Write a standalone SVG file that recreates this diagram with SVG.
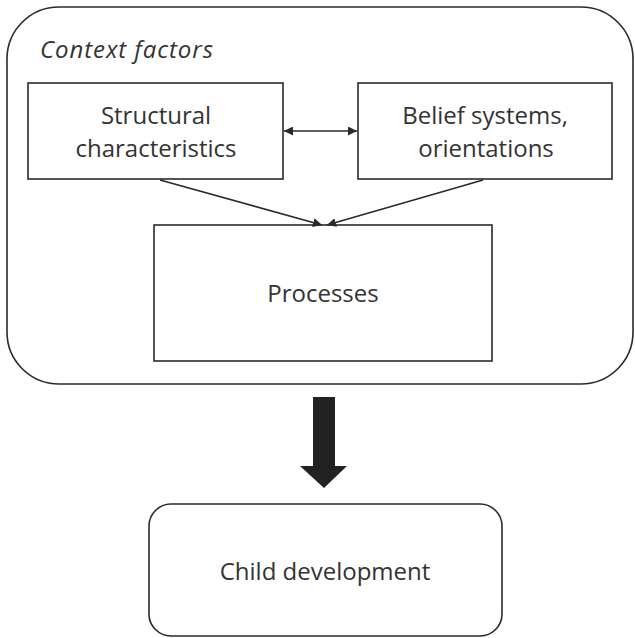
<svg xmlns="http://www.w3.org/2000/svg" width="635" height="638" viewBox="0 0 635 638">
<style>
  .box{fill:#fff;stroke:#2a2a2a;stroke-width:1.6}
  .t{font-family:"Open Sans","Noto Sans","Liberation Sans",sans-serif;font-size:24px;fill:#333;text-anchor:middle}
  .ln{stroke:#2a2a2a;stroke-width:1.6;fill:none}
</style>
<defs>
  <marker id="ah" viewBox="0 0 10 10" refX="10" refY="5" markerWidth="9" markerHeight="9" markerUnits="userSpaceOnUse" orient="auto-start-reverse">
    <path d="M0,0 L10,5 L0,10 z" fill="#2a2a2a"/>
  </marker>
</defs>
<rect width="635" height="638" fill="#fff"/>
<g id="context">
  <rect class="box" x="7" y="7" width="626" height="377" rx="52" ry="52"/>
  <text x="40" y="58" style="font-family:'Open Sans','Noto Sans',sans-serif;font-size:24px;font-style:italic;fill:#333" textLength="173" lengthAdjust="spacing">Context factors</text>
</g>
<g id="structural">
  <rect class="box" x="28" y="83" width="255" height="96"/>
  <text class="t" x="156" y="124">Structural</text>
  <text class="t" x="156" y="157">characteristics</text>
</g>
<g id="belief">
  <rect class="box" x="358" y="83" width="254" height="96"/>
  <text class="t" x="485" y="124">Belief systems,</text>
  <text class="t" x="486" y="157">orientations</text>
</g>
<g id="processes">
  <rect class="box" x="154" y="225" width="338" height="136"/>
  <text class="t" x="323" y="302">Processes</text>
</g>
<g id="child">
  <rect class="box" x="149" y="504" width="353" height="132" rx="22" ry="22"/>
  <text class="t" x="325" y="580">Child development</text>
</g>
<g id="connectors">
  <line class="ln" x1="284" y1="131" x2="357" y2="131" marker-start="url(#ah)" marker-end="url(#ah)"/>
  <line class="ln" x1="160" y1="180" x2="322" y2="225" marker-end="url(#ah)"/>
  <line class="ln" x1="483" y1="180" x2="327" y2="225" marker-end="url(#ah)"/>
  <path d="M313,397 H335 V466 H347 L324,488 L300,466 H313 Z" fill="#222"/>
</g>
</svg>
